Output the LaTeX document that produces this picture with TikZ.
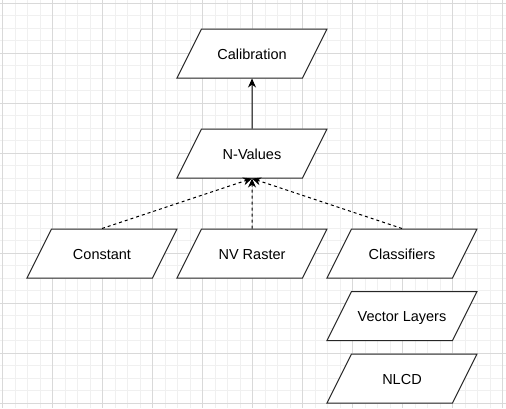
\documentclass[tikz,border=0pt]{standalone}
\usepackage{fontspec}
\setmainfont{Liberation Sans}
\usetikzlibrary{arrows.meta, shapes.geometric}

\begin{document}
\begin{tikzpicture}[x=1pt, y=-1pt, >={Stealth[length=9pt, width=8pt]},
    font=\fontsize{14.5pt}{17pt}\selectfont,
    iobox/.style={draw=black!85, line width=1pt, fill=white,
      trapezium, trapezium left angle=63.43, trapezium right angle=116.57,
      trapezium stretches body, minimum width=150pt,
      text height=14pt, text depth=2.4pt, inner ysep=16.3pt, inner xsep=2pt},
    link/.style={->, line width=1pt, black},
    dlink/.style={link, dash pattern=on 3pt off 3pt}]
  % page and grid
  \fill[white] (0,0) rectangle (506,408);
  \useasboundingbox (0,0) rectangle (506,408);
  \foreach \k in {0,...,40} {
    \draw[black!6, line width=0.8pt] (2.5+12.5*\k,0) -- (2.5+12.5*\k,408);
    \draw[black!6, line width=0.8pt] (0,3+12.5*\k) -- (506,3+12.5*\k);
  }
  \foreach \k in {0,...,10} {
    \draw[black!15, line width=0.8pt] (2.5+50*\k,0) -- (2.5+50*\k,408);
    \draw[black!15, line width=0.8pt] (0,3+50*\k) -- (506,3+50*\k);
  }

  % shapes
  \node[iobox] (calib) at (252,53.5) {Calibration};
  \node[iobox] (nvals) at (252,153.5) {N-Values};
  \node[iobox] (const) at (102,253.5) {Constant};
  \node[iobox] (raster) at (252,253.5) {NV Raster};
  \node[iobox] (classif) at (402,253.5) {Classifiers};
  \node[iobox] (vector) at (402,316) {Vector Layers};
  \node[iobox] (nlcd) at (402,378.5) {NLCD};

  % connectors
  \draw[link] (nvals.north) -- (calib.south);
  \draw[dlink] (const.north) -- (nvals.south);
  \draw[dlink] (raster.north) -- (nvals.south);
  \draw[dlink] (classif.north) -- (nvals.south);
\end{tikzpicture}
\end{document}
